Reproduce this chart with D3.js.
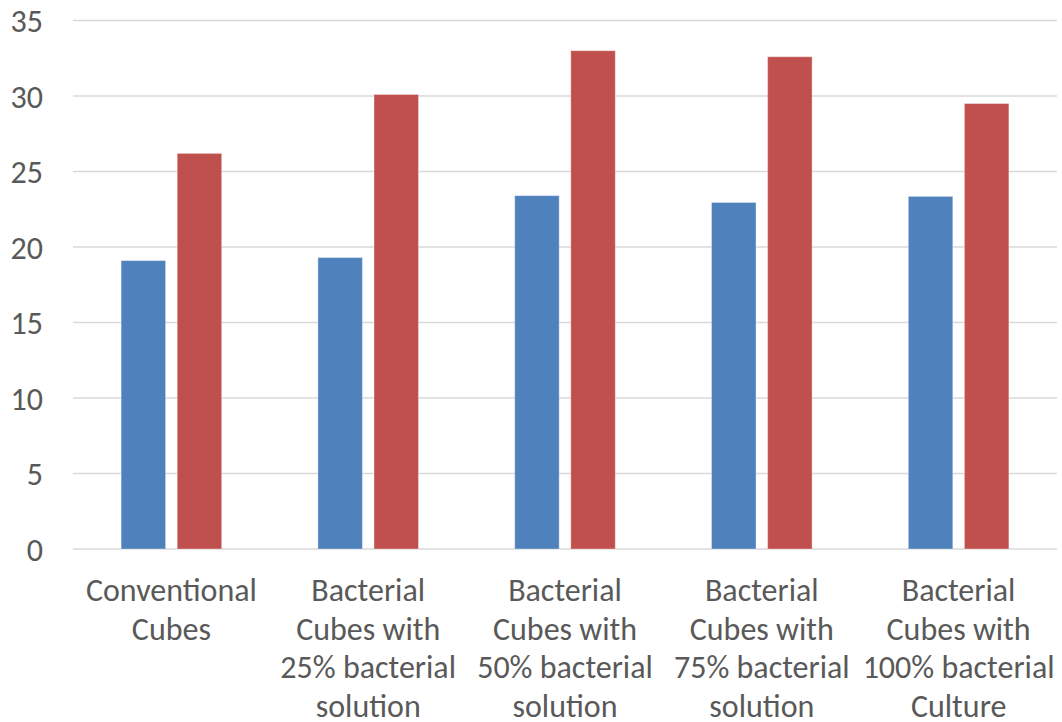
<!DOCTYPE html>
<html>
<head>
<meta charset="utf-8">
<script src="https://cdn.jsdelivr.net/npm/d3@7"></script>
<style>
  html, body { margin: 0; padding: 0; background: #fff; }
  svg text { font-family: Carlito, "Liberation Sans Narrow", "Liberation Sans", sans-serif; fill: #595959; }
</style>
</head>
<body>
<svg id="chart" width="1062" height="722"></svg>
<script>
// Category labels (line-wrapped as shown under each group)
const categories = [
  ["Conventional", "Cubes"],
  ["Bacterial", "Cubes with", "25% bacterial", "solution"],
  ["Bacterial", "Cubes with", "50% bacterial", "solution"],
  ["Bacterial", "Cubes with", "75% bacterial", "solution"],
  ["Bacterial", "Cubes with", "100% bacterial", "Culture"]
];
const seriesA = [19.1, 19.3, 23.4, 22.95, 23.35];
const seriesB = [26.2, 30.1, 33.0, 32.6, 29.5];
const yTicks = [0, 5, 10, 15, 20, 25, 30, 35];
const seriesColors = ["#4F81BD", "#C0504D"];

const svg = d3.select("#chart");
const margin = { left: 73, right: 5, top: 20.5, bottom: 173 };
const width = 1062, height = 722;

const x0 = d3.scaleBand()
  .domain(d3.range(categories.length))
  .range([margin.left, width - margin.right])
  .paddingInner(0)
  .paddingOuter(0);

const groupWidth = x0.bandwidth() * 0.511;
const x1 = d3.scaleBand()
  .domain([0, 1])
  .range([(x0.bandwidth() - groupWidth) / 2, (x0.bandwidth() + groupWidth) / 2])
  .paddingInner(0.207);

const y = d3.scaleLinear().domain([0, 35]).range([height - margin.bottom, margin.top]);

// Gridlines
svg.append("g")
  .selectAll("line")
  .data(yTicks)
  .join("line")
  .attr("x1", margin.left)
  .attr("x2", width - margin.right)
  .attr("y1", d => y(d))
  .attr("y2", d => y(d))
  .attr("stroke", "#D9D9D9")
  .attr("stroke-width", 1.5);

// Y tick labels
const yAxis = d3.axisLeft(y).tickValues(yTicks).tickSize(0).tickPadding(0);
const gy = svg.append("g").attr("transform", `translate(${43},0)`).call(yAxis);
gy.select(".domain").remove();
gy.selectAll("text")
  .attr("font-size", 32)
  .attr("font-family", null)
  .attr("fill", "#595959")
  .attr("dy", "0.35em");

// Bars
const groups = svg.append("g")
  .selectAll("g")
  .data(categories.map((c, i) => ({ i, vals: [seriesA[i], seriesB[i]] })))
  .join("g")
  .attr("transform", d => `translate(${x0(d.i)},0)`);

groups.selectAll("rect")
  .data(d => d.vals.map((v, s) => ({ v, s })))
  .join("rect")
  .attr("x", d => x1(d.s))
  .attr("width", x1.bandwidth())
  .attr("y", d => y(d.v))
  .attr("height", d => y(0) - y(d.v))
  .attr("fill", d => seriesColors[d.s])
  .attr("stroke", "rgba(255,255,255,0.35)")
  .attr("stroke-width", 1);

// Category labels
const lab = svg.append("g")
  .selectAll("text")
  .data(categories.map((c, i) => ({ c, i })))
  .join("text")
  .attr("text-anchor", "middle")
  .attr("font-size", 32)
  .attr("x", d => x0(d.i) + x0.bandwidth() / 2)
  .attr("y", 589.5);
lab.selectAll("tspan")
  .data(d => d.c.map((t, k) => ({ t, k, cx: x0(d.i) + x0.bandwidth() / 2 })))
  .join("tspan")
  .attr("x", d => d.cx)
  .attr("dy", d => d.k === 0 ? "0.35em" : 38.8)
  .text(d => d.t);
</script>
</body>
</html>
